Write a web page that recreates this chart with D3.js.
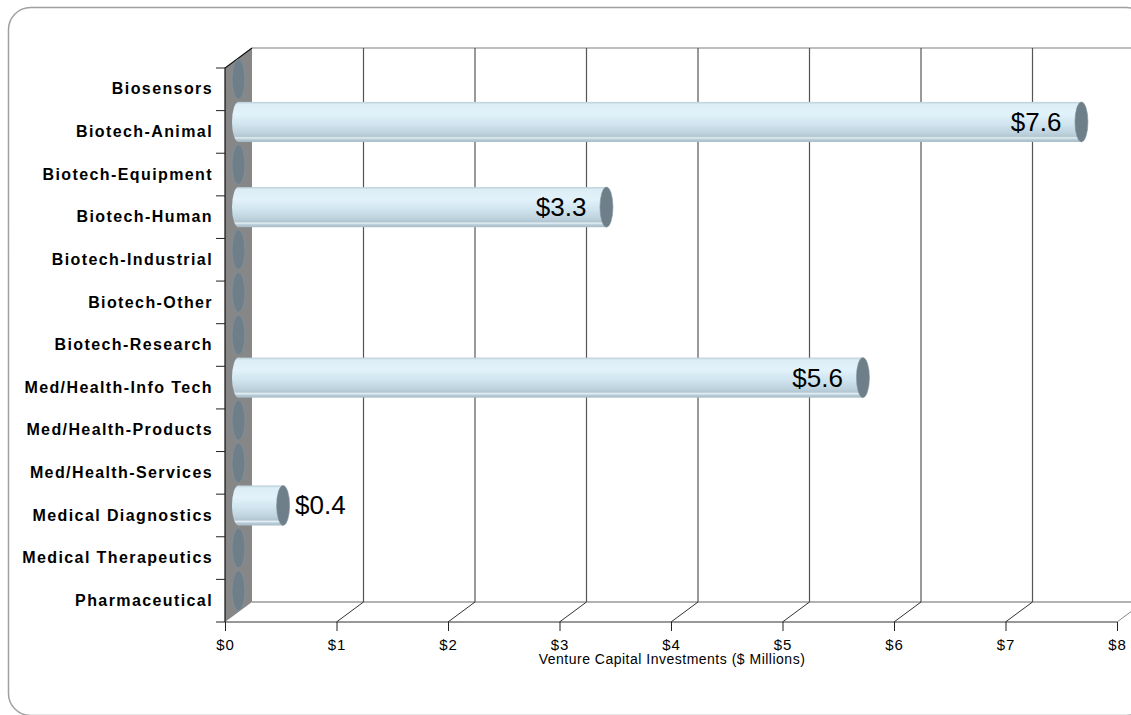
<!DOCTYPE html>
<html>
<head>
  <meta charset="utf-8">
  <script src="https://cdn.jsdelivr.net/npm/d3@7/dist/d3.min.js"></script>
  <style>
    body { margin: 0; background: #fff; }
    text { font-family: "Liberation Sans", Arial, sans-serif; fill: #000; }
    .cat text { font-weight: bold; font-size: 16px; letter-spacing: 1.4px; }
    .xaxis text { font-size: 15px; letter-spacing: 0.8px; }
  </style>
</head>
<body>
<script>
  // chart data
  var categories = ["Biosensors", "Biotech-Animal", "Biotech-Equipment", "Biotech-Human",
    "Biotech-Industrial", "Biotech-Other", "Biotech-Research", "Med/Health-Info Tech",
    "Med/Health-Products", "Med/Health-Services", "Medical Diagnostics",
    "Medical Therapeutics", "Pharmaceutical"];
  var investments = [0, 7.56, 0, 3.3, 0, 0, 0, 5.6, 0, 0, 0.4, 0, 0];
  var xTicks = [0, 1, 2, 3, 4, 5, 6, 7, 8];
  var xTitle = "Venture Capital Investments ($ Millions)";

  var W = 1131, H = 715;
  var dx = 27, dy = -20;           // 3-D depth offset
  var pLeft = 225, pRight = 1117, pTop = 68, pBottom = 622;

  var svg = d3.select("body").append("svg")
    .attr("width", W).attr("height", H);

  // outer rounded frame
  svg.append("rect")
    .attr("x", 8.5).attr("y", 7.5).attr("width", 1140).attr("height", 708)
    .attr("rx", 22).attr("fill", "none").attr("stroke", "#a0a0a0").attr("stroke-width", 1.5);

  var x = d3.scaleLinear().domain([0, 8]).range([pLeft, pRight]);
  var y = d3.scaleBand().domain(categories).range([pTop, pBottom]).paddingInner(0.06).paddingOuter(0.03);

  // gradient for the cylinders
  var defs = svg.append("defs");
  var grad = defs.append("linearGradient").attr("id", "cyl")
    .attr("x1", 0).attr("y1", 0).attr("x2", 0).attr("y2", 1);
  [[0, "#b9cdd7"], [0.06, "#dcedf6"], [0.3, "#e2f2fa"], [0.55, "#d0e5ef"],
   [0.78, "#bdd2dc"], [0.86, "#b2c7d1"], [0.9, "#e3eff4"], [0.94, "#b8ccd6"], [1, "#a6bbc5"]]
    .forEach(function (s) {
      grad.append("stop").attr("offset", s[0]).attr("stop-color", s[1]);
    });

  // back wall gridlines
  var back = svg.append("g");
  back.append("line")
    .attr("x1", pLeft + dx).attr("x2", W + 20).attr("y1", pTop + dy).attr("y2", pTop + dy)
    .attr("stroke", "#a8a8a8").attr("stroke-width", 1.5);
  back.append("line")
    .attr("x1", pLeft + dx).attr("x2", W + 20).attr("y1", pBottom + dy).attr("y2", pBottom + dy)
    .attr("stroke", "#999").attr("stroke-width", 1.5);
  back.selectAll("line.grid").data(xTicks.slice(1)).enter().append("line")
    .attr("class", "grid")
    .attr("x1", function (d) { return x(d) + dx; }).attr("x2", function (d) { return x(d) + dx; })
    .attr("y1", pTop + dy).attr("y2", pBottom + dy)
    .attr("stroke", "#555").attr("stroke-width", 1.2);

  // floor diagonals
  svg.selectAll("line.floor").data(xTicks.slice(1)).enter().append("line")
    .attr("class", "floor")
    .attr("x1", function (d) { return x(d); }).attr("y1", pBottom)
    .attr("x2", function (d) { return x(d) + dx; }).attr("y2", pBottom + dy)
    .attr("stroke", function (d) { return d === 8 ? "#888" : "#333"; }).attr("stroke-width", 1);

  // side wall
  svg.append("path")
    .attr("d", "M" + pLeft + "," + pTop + "L" + (pLeft + dx) + "," + (pTop + dy) +
      "L" + (pLeft + dx) + "," + (pBottom + dy) + "L" + pLeft + "," + pBottom + "Z")
    .attr("fill", "#878787");
  svg.append("path")
    .attr("d", "M" + pLeft + "," + pBottom + "L" + pLeft + "," + pTop + "L" + (pLeft + dx) + "," + (pTop + dy))
    .attr("fill", "none").attr("stroke", "#111").attr("stroke-width", 1.2);

  // bars (cylinders)
  var rx = 6.5, hx = dx / 2, hy = dy / 2;
  var bars = svg.selectAll("g.bar").data(categories).enter().append("g").attr("class", "bar");
  bars.each(function (c, i) {
    var g = d3.select(this), v = investments[i];
    var cy = y(c) + y.bandwidth() / 2 + hy, ry = y.bandwidth() / 2;
    var x0 = x(0) + hx, x1 = x(v) + hx;
    if (v > 0) {
      g.append("ellipse").attr("cx", x0).attr("cy", cy).attr("rx", rx).attr("ry", ry)
        .attr("fill", "url(#cyl)");
      g.append("rect").attr("x", x0).attr("y", cy - ry).attr("width", x1 - x0).attr("height", 2 * ry)
        .attr("fill", "url(#cyl)");
    }
    g.append("ellipse").attr("cx", x1).attr("cy", cy).attr("rx", rx).attr("ry", ry)
      .attr("fill", "#6e7f8a").attr("stroke", "#8595a0").attr("stroke-width", 0.6);
    if (v > 0) {
      var label = g.append("text").attr("font-size", 26).attr("y", cy + 9)
        .text("$" + d3.format(".1f")(v));
      var tw = label.node().getComputedTextLength();
      if (x1 - x0 > tw + 30) {
        label.attr("x", x1 - 20).attr("text-anchor", "end");
      } else {
        label.attr("x", x1 + 12).attr("text-anchor", "start");
      }
    }
  });

  // front axes
  svg.append("line").attr("x1", pLeft).attr("x2", pRight).attr("y1", pBottom).attr("y2", pBottom)
    .attr("stroke", "#333").attr("stroke-width", 1.2);

  var xAxis = d3.axisBottom(x).tickValues(xTicks).tickSize(9).tickPadding(8)
    .tickFormat(function (d) { return "$" + d; });
  var xg = svg.append("g").attr("class", "xaxis").attr("transform", "translate(0," + pBottom + ")").call(xAxis);
  xg.select(".domain").remove();
  xg.selectAll(".tick line").attr("stroke", "#222");
  xg.selectAll(".tick text").attr("font-family", null).attr("font-size", null);

  // category labels with boundary ticks
  var yAxis = d3.axisLeft(y).tickSize(0).tickPadding(12);
  var yg = svg.append("g").attr("class", "cat").attr("transform", "translate(" + pLeft + ",0)").call(yAxis);
  yg.select(".domain").remove();
  yg.selectAll(".tick text").attr("font-family", null).attr("font-size", null);
  var bounds = d3.range(categories.length + 1).map(function (i) {
    return pTop + (pBottom - pTop) * i / categories.length;
  });
  svg.selectAll("line.ytick").data(bounds).enter().append("line")
    .attr("x1", pLeft - 9).attr("x2", pLeft)
    .attr("y1", function (d) { return d; }).attr("y2", function (d) { return d; })
    .attr("stroke", "#222");

  svg.append("text").attr("x", 672).attr("y", 664).attr("text-anchor", "middle")
    .attr("font-size", 14).attr("letter-spacing", 0.5).text(xTitle);
</script>
</body>
</html>
